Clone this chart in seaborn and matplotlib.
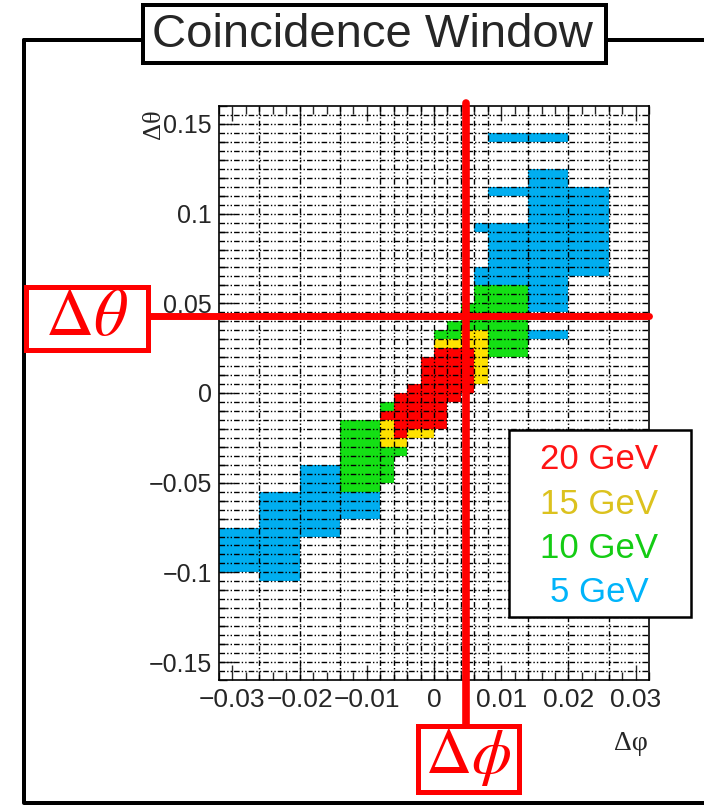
import numpy as np
import matplotlib
matplotlib.use("Agg")
import matplotlib.pyplot as plt
import matplotlib.transforms as mtransforms
from matplotlib.colors import ListedColormap
from matplotlib.patches import Rectangle
from matplotlib.lines import Line2D
from matplotlib.ticker import MultipleLocator, FuncFormatter
import seaborn as sns

# bin edges of the window: coarse bins outside |dphi| < 0.008, fine bins inside
dphi_edges = [-0.032, -0.026, -0.020, -0.014, -0.008, -0.006, -0.004, -0.002,
              0.0, 0.002, 0.004, 0.006, 0.008, 0.014, 0.020, 0.026, 0.032]
dtheta_edges = np.round(np.arange(-0.160, 0.1601, 0.005), 4)

# filled cells per threshold: (dphi column, first dtheta row, last dtheta row)
# rows are counted from the bottom (row 0 = -0.160 .. -0.155)
labels = ["20 GeV", "15 GeV", "10 GeV", "5 GeV"]
cells_20 = [(4, 29, 29), (5, 27, 31), (6, 28, 32), (7, 28, 35), (8, 28, 36),
            (9, 31, 36), (10, 32, 36)]
cells_15 = [(4, 26, 28), (5, 26, 26), (6, 27, 27), (7, 27, 27), (8, 37, 37),
            (9, 37, 37), (10, 37, 38), (11, 33, 38)]
cells_10 = [(3, 21, 28), (4, 30, 30), (4, 22, 25), (5, 25, 25), (8, 38, 38),
            (9, 38, 39), (10, 39, 41), (11, 39, 43), (12, 36, 43)]
cells_5 = [(0, 12, 16), (1, 11, 20), (2, 16, 23), (3, 18, 20), (11, 50, 50),
           (11, 44, 45), (12, 60, 60), (12, 54, 54), (12, 44, 50), (13, 60, 60),
           (13, 41, 56), (13, 38, 38), (14, 45, 54)]

cell_colors = ["#ff0000", "#ffe200", "#14e014", "#00aef0"]
text_colors = ["#ff1414", "#dcc21e", "#14cc14", "#00b4fa"]

# where the red marker lines cross the window
dphi_cut = 0.0048
dtheta_cut = 0.043

W, H = 704, 807


def cell_centres(cells):
    xs, ys = [], []
    for col, r0, r1 in cells:
        for r in range(r0, r1 + 1):
            xs.append(0.5 * (dphi_edges[col] + dphi_edges[col + 1]))
            ys.append(0.5 * (dtheta_edges[r] + dtheta_edges[r + 1]))
    return xs, ys


def box(x0, y0, x1, y1, **kw):
    # rectangle given in pixel coordinates of the image (y downwards)
    return Rectangle((x0 / W, 1 - y1 / H), (x1 - x0) / W, (y1 - y0) / H,
                     transform=fig.transFigure, **kw)


sns.set_style("white")
plt.rcParams["font.family"] = ["Liberation Sans", "DejaVu Sans"]
plt.rcParams["mathtext.fontset"] = "stix"

fig = plt.figure(figsize=(W / 100, H / 100), dpi=100)
ax = fig.add_axes([219 / W, 1 - 680 / H, 430 / W, 574 / H])

for cells, color in zip([cells_20, cells_15, cells_10, cells_5], cell_colors):
    xs, ys = cell_centres(cells)
    sns.histplot(x=xs, y=ys, bins=(dphi_edges, dtheta_edges),
                 cmap=ListedColormap([color]), ax=ax, zorder=1)

dashdotdot = (0, (4, 1.5, 1, 1.5, 1, 1.5))
ax.vlines(dphi_edges[1:-1], dtheta_edges[0], dtheta_edges[-1], colors="k",
          linestyles=[dashdotdot], linewidth=1.0, zorder=2)
ax.hlines(dtheta_edges[1:-1], dphi_edges[0], dphi_edges[-1], colors="k",
          linestyles=[dashdotdot], linewidth=1.0, zorder=2)

ax.set_xlim(dphi_edges[0], dphi_edges[-1])
ax.set_ylim(dtheta_edges[0], dtheta_edges[-1])
ax.set_xlabel("")
ax.set_ylabel("")

fmt = FuncFormatter(lambda v, p: ("%g" % round(v, 4)).replace("-", "\u2212"))
ax.xaxis.set_major_locator(MultipleLocator(0.01))
ax.xaxis.set_minor_locator(MultipleLocator(0.002))
ax.yaxis.set_major_locator(MultipleLocator(0.05))
ax.yaxis.set_minor_locator(MultipleLocator(0.01))
ax.xaxis.set_major_formatter(fmt)
ax.yaxis.set_major_formatter(fmt)
ax.tick_params(axis="x", which="both", direction="in", top=True, bottom=True,
               labelsize=19, pad=6, width=1)
ax.tick_params(axis="y", which="both", direction="in", left=True, right=False,
               labelsize=18, pad=5, width=1)
ax.tick_params(which="major", length=11)
ax.tick_params(which="minor", length=5.5)
for s in ax.spines.values():
    s.set_linewidth(1.2)
    s.set_color("k")

# axis titles
fig.text(648 / W, 1 - 743 / H, "\u0394\u03c6", ha="right", va="center",
         fontsize=20, family="Liberation Serif")
fig.text(154 / W, 1 - 124 / H, "\u0394\u03b8", ha="center", va="center",
         rotation=90, fontsize=19, family="Liberation Serif")

# outer frame and title box
lw_frame = 4 * 72 / 100
fig.add_artist(Line2D([24 / W, 24 / W, 1.0], [1 - 40 / H, 1 - 803 / H, 1 - 803 / H],
                      transform=fig.transFigure, color="k", lw=lw_frame))
fig.add_artist(Line2D([24 / W, 1.0], [1 - 40 / H, 1 - 40 / H],
                      transform=fig.transFigure, color="k", lw=lw_frame))
fig.add_artist(box(143, 5, 606, 63, facecolor="white", edgecolor="k",
                   lw=lw_frame, zorder=3))
fig.text(372 / W, 1 - 35 / H, "Coincidence Window", ha="center", va="center",
         fontsize=34, zorder=4)

# legend box
fig.add_artist(box(509, 430, 691, 617, facecolor="white", edgecolor="k",
                   lw=2.5 * 72 / 100, zorder=3))
for lab, col, yy in zip(labels, text_colors, [459, 504, 548, 592]):
    fig.text(599 / W, 1 - yy / H, lab, ha="center", va="center", fontsize=25,
             color=col, zorder=4)

# red marker lines
red = "#ff0000"
t_h = mtransforms.blended_transform_factory(fig.transFigure, ax.transData)
fig.add_artist(Line2D([148 / W, 649 / W], [dtheta_cut, dtheta_cut],
                      transform=t_h, color=red, lw=5, zorder=3))
t_v = mtransforms.blended_transform_factory(ax.transData, fig.transFigure)
fig.add_artist(Line2D([dphi_cut, dphi_cut], [1 - 103 / H, 1 - 726 / H],
                      transform=t_v, color=red, lw=5.5, zorder=3))

fig.add_artist(box(26, 287, 148, 350, facecolor="white", edgecolor=red,
                   lw=5 * 72 / 100, zorder=4))
fig.text(87 / W, 1 - 318 / H, r"$\Delta\theta$", ha="center", va="center",
         fontsize=48, color=red, zorder=5)
fig.add_artist(box(418, 726, 519, 792, facecolor="white", edgecolor=red,
                   lw=5 * 72 / 100, zorder=4))
fig.text(468 / W, 1 - 758 / H, r"$\Delta\phi$", ha="center", va="center",
         fontsize=46, color=red, zorder=5)

fig.savefig("out.png", dpi=100)
